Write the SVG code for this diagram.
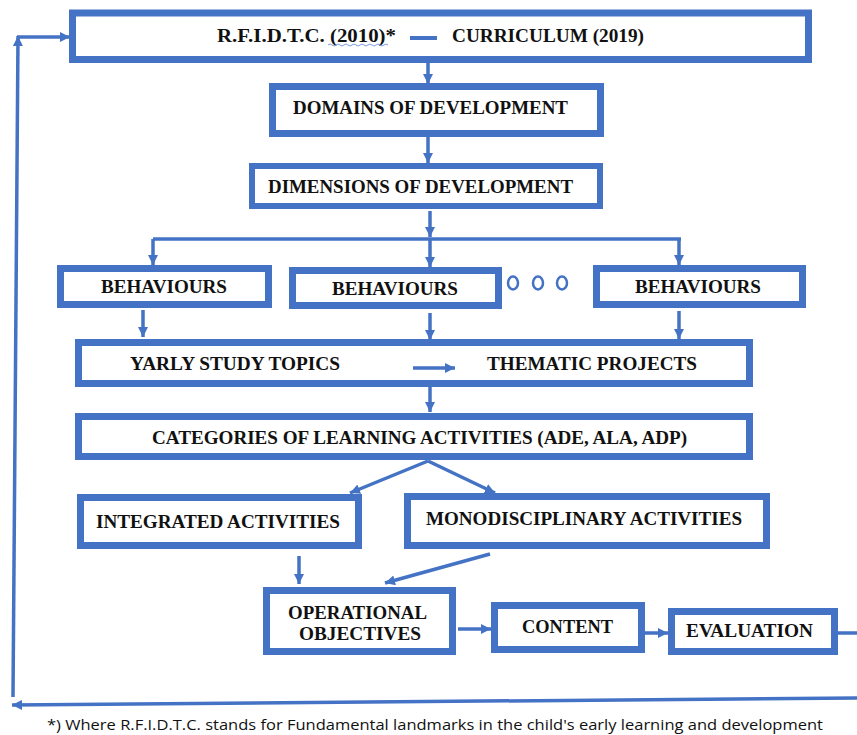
<svg xmlns="http://www.w3.org/2000/svg" width="857" height="735" viewBox="0 0 857 735">
<defs>
<marker id="ah" viewBox="0 0 10 10" refX="10" refY="5" markerWidth="10" markerHeight="10" markerUnits="userSpaceOnUse" orient="auto">
<path d="M0,0 L10,5 L0,10 z" fill="#4472C4"/>
</marker>
<style>
.box{fill:#fff;stroke:#4472C4;stroke-width:7}
.t{font-family:"Liberation Serif","Times New Roman",serif;font-weight:bold;font-size:19px;fill:#111}
.c{fill:none;stroke:#4472C4;stroke-width:3.5}
.ca{fill:none;stroke:#4472C4;stroke-width:3.5;marker-end:url(#ah)}
.fn{font-family:"Open Sans","Noto Sans","Liberation Sans",sans-serif;font-size:15px;fill:#111}
</style>
</defs>
<rect width="857" height="735" fill="#fff"/>

<g id="node-top">
<rect class="box" x="72.5" y="13" width="736" height="46.5"/>
<text class="t" x="217" y="42" textLength="179" lengthAdjust="spacingAndGlyphs">R.F.I.D.T.C. (2010)*</text>
<rect x="410" y="36" width="27" height="4" fill="#4472C4"/>
<path d="M328,45 q2,-2 4,0 t4,0 t4,0 t4,0 t4,0 t4,0 t4,0 t4,0 t4,0 t4,0 t4,0 t4,0 t4,0 t4,0 t4,0" fill="none" stroke="#7A9BE0" stroke-width="1"/>
<text class="t" x="452" y="42" textLength="192" lengthAdjust="spacingAndGlyphs">CURRICULUM (2019)</text>
</g>

<g id="node-domains">
<rect class="box" x="272.5" y="86.5" width="328" height="47"/>
<text class="t" x="293" y="114" textLength="275" lengthAdjust="spacingAndGlyphs">DOMAINS OF DEVELOPMENT</text>
</g>

<g id="node-dimensions">
<rect class="box" x="252" y="166" width="348" height="40" style="stroke-width:6"/>
<text class="t" x="268" y="193" textLength="305" lengthAdjust="spacingAndGlyphs">DIMENSIONS OF DEVELOPMENT</text>
</g>

<g id="node-behaviours-1">
<rect class="box" x="60.5" y="268.5" width="208" height="36"/>
<text class="t" x="101" y="293" textLength="126" lengthAdjust="spacingAndGlyphs">BEHAVIOURS</text>
</g>

<g id="node-behaviours-2">
<rect class="box" x="292.5" y="270.5" width="206" height="35"/>
<text class="t" x="332" y="295" textLength="126" lengthAdjust="spacingAndGlyphs">BEHAVIOURS</text>
</g>

<g id="ellipsis">
<ellipse cx="513" cy="283" rx="5" ry="6.5" fill="none" stroke="#4472C4" stroke-width="2.5"/>
<ellipse cx="538" cy="283" rx="5" ry="6.5" fill="none" stroke="#4472C4" stroke-width="2.5"/>
<ellipse cx="562" cy="283" rx="5" ry="6.5" fill="none" stroke="#4472C4" stroke-width="2.5"/>
</g>

<g id="node-behaviours-3">
<rect class="box" x="596.5" y="268.5" width="206" height="36"/>
<text class="t" x="635" y="293" textLength="126" lengthAdjust="spacingAndGlyphs">BEHAVIOURS</text>
</g>

<g id="node-topics">
<rect class="box" x="78.5" y="342.5" width="671" height="41"/>
<text class="t" x="130" y="370" textLength="210" lengthAdjust="spacingAndGlyphs">YARLY STUDY TOPICS</text>
<text class="t" x="487" y="370" textLength="210" lengthAdjust="spacingAndGlyphs">THEMATIC PROJECTS</text>
</g>

<g id="node-categories">
<rect class="box" x="78.5" y="416.5" width="671" height="40"/>
<text class="t" x="152" y="444" textLength="535" lengthAdjust="spacingAndGlyphs">CATEGORIES OF LEARNING ACTIVITIES (ADE, ALA, ADP)</text>
</g>

<g id="node-integrated">
<rect class="box" x="80.5" y="497.5" width="278" height="48"/>
<text class="t" x="96" y="528" textLength="244" lengthAdjust="spacingAndGlyphs">INTEGRATED ACTIVITIES</text>
</g>

<g id="node-monodisciplinary">
<rect class="box" x="407.5" y="496.5" width="359" height="49"/>
<text class="t" x="426" y="525" textLength="316" lengthAdjust="spacingAndGlyphs">MONODISCIPLINARY  ACTIVITIES</text>
</g>

<g id="node-objectives">
<rect class="box" x="266.5" y="590.5" width="186" height="61"/>
<text class="t" x="288" y="619" textLength="139" lengthAdjust="spacingAndGlyphs">OPERATIONAL</text>
<text class="t" x="299" y="640" textLength="122" lengthAdjust="spacingAndGlyphs">OBJECTIVES</text>
</g>

<g id="node-content">
<rect class="box" x="494.5" y="605.5" width="147" height="44"/>
<text class="t" x="522" y="633" textLength="91" lengthAdjust="spacingAndGlyphs">CONTENT</text>
</g>

<g id="node-evaluation">
<rect class="box" x="671.5" y="611.5" width="163" height="40"/>
<text class="t" x="686" y="637" textLength="127" lengthAdjust="spacingAndGlyphs">EVALUATION</text>
</g>

<g id="connectors">
<line class="ca" x1="428" y1="63" x2="428" y2="84"/>
<line class="ca" x1="428" y1="137" x2="428" y2="163"/>
<line class="ca" x1="430" y1="211" x2="430" y2="237"/>
<line class="c" x1="153" y1="239" x2="681" y2="239"/>
<line class="ca" x1="153" y1="239" x2="153" y2="265"/>
<line class="ca" x1="430" y1="239" x2="430" y2="267"/>
<line class="ca" x1="679" y1="239" x2="679" y2="265"/>
<line class="ca" x1="143" y1="310" x2="143" y2="337"/>
<line class="ca" x1="430" y1="313" x2="430" y2="340"/>
<line class="ca" x1="679" y1="311" x2="679" y2="339"/>
<line class="ca" x1="413" y1="368" x2="455" y2="368"/>
<line class="ca" x1="430" y1="387" x2="430" y2="412"/>
<line class="ca" x1="428" y1="461" x2="350" y2="493"/>
<line class="ca" x1="428" y1="461" x2="495" y2="493"/>
<line class="ca" x1="299" y1="556" x2="299" y2="584"/>
<line class="ca" x1="490" y1="554" x2="385" y2="583"/>
<line class="ca" x1="458" y1="629" x2="491" y2="629"/>
<line class="ca" x1="645" y1="633" x2="668" y2="633"/>
<line class="c" x1="838" y1="633" x2="857" y2="633"/>
<line class="ca" x1="857" y1="698" x2="12" y2="705"/>
<line class="ca" x1="13" y1="697" x2="18" y2="36"/>
<line class="ca" x1="17" y1="37" x2="70" y2="37"/>
</g>

<text class="fn" x="47" y="730" textLength="776" lengthAdjust="spacingAndGlyphs">*) Where R.F.I.D.T.C. stands for Fundamental landmarks in the child's early learning and development</text>
</svg>
